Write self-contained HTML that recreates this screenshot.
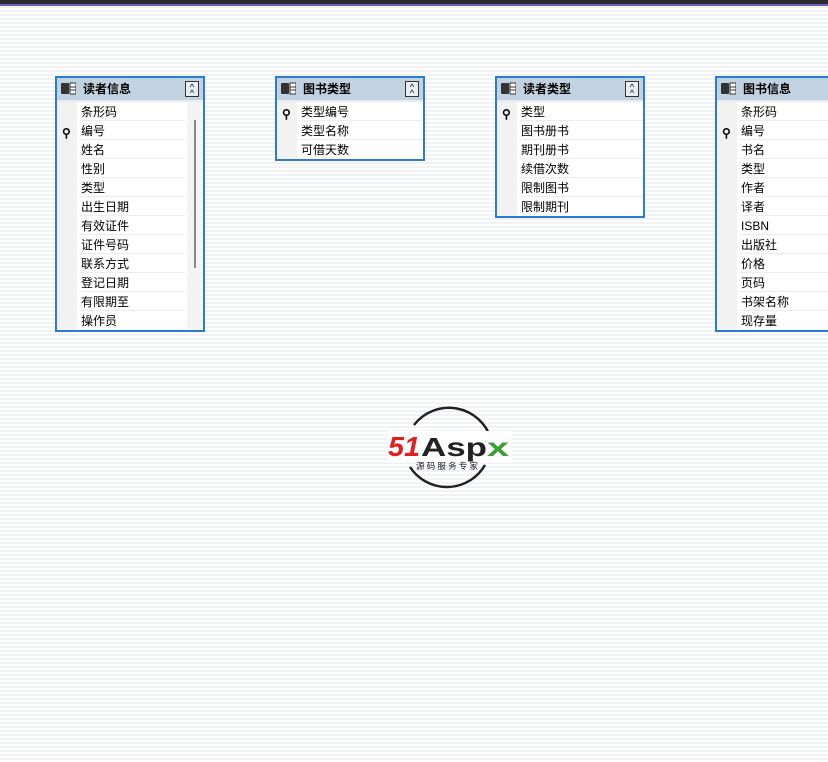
<!DOCTYPE html>
<html><head><meta charset="utf-8"><style>
*{margin:0;padding:0;box-sizing:border-box}
body{width:828px;height:762px;overflow:hidden;position:relative;font-family:"Liberation Sans","Noto Sans CJK SC",sans-serif;font-size:12px;color:#000;
background:repeating-linear-gradient(to bottom,#fff 0,#fff 2px,#f1f2f5 2px,#f1f2f5 4px)}
.top{position:absolute;left:0;top:0;width:828px;height:4px;background:#2c2c2e}
.pur{position:absolute;left:0;top:4px;width:828px;height:2px;background:#7060c8}
.t{position:absolute;top:76px;width:150px;border:2px solid #2a7ccc;background:#fff}
.h{height:24px;background:#c3d2e1;position:relative;font-weight:bold;line-height:22px;padding-left:26px;border-bottom:2px solid #e6ecf2}
.ic{position:absolute;left:4px;top:4px;width:15px;height:13px}
.ex{position:absolute;right:4px;top:3px;width:14px;height:16px;border:1px solid #333;background:#e8eef4;font-size:9px;line-height:6px;text-align:center;font-weight:normal;padding-top:2px}
.r{height:19px;line-height:21px;padding-left:22px;position:relative}
.r span{display:block;border-bottom:1px solid #ececec;padding-left:2px;height:19px;overflow:hidden}
.g{position:absolute;left:0;top:24px;bottom:0;width:20px;background:#f2f2f2}
.k{position:absolute;left:5px;top:3px;font-size:12px;line-height:18px}
</style></head><body>
<div class="top"></div><div class="pur"></div>

<div class="t" style="left:55px">
<div class="g"></div>
<div class="h"><svg class="ic" viewBox="0 0 15 13"><rect x="0" y="1" width="8" height="11" rx="1" fill="#333"/><rect x="9" y="1" width="6" height="11" fill="#fff" stroke="#333"/><line x1="9" y1="5" x2="15" y2="5" stroke="#333"/><line x1="9" y1="8" x2="15" y2="8" stroke="#333"/></svg>读者信息<div class="ex">^<br>^</div></div>
<div style="width:128px">
<div class="r"><span>条形码</span></div>
<div class="r"><b class="k">⚲</b><span>编号</span></div>
<div class="r"><span>姓名</span></div>
<div class="r"><span>性别</span></div>
<div class="r"><span>类型</span></div>
<div class="r"><span>出生日期</span></div>
<div class="r"><span>有效证件</span></div>
<div class="r"><span>证件号码</span></div>
<div class="r"><span>联系方式</span></div>
<div class="r"><span>登记日期</span></div>
<div class="r"><span>有限期至</span></div>
<div class="r"><span>操作员</span></div>
</div>
<div style="position:absolute;left:130px;top:24px;width:16px;bottom:0;background:#f4f4f4"></div>
<div style="position:absolute;left:137px;top:42px;width:2px;height:148px;background:#888"></div>
</div>

<div class="t" style="left:275px">
<div class="g"></div>
<div class="h"><svg class="ic" viewBox="0 0 15 13"><rect x="0" y="1" width="8" height="11" rx="1" fill="#333"/><rect x="9" y="1" width="6" height="11" fill="#fff" stroke="#333"/><line x1="9" y1="5" x2="15" y2="5" stroke="#333"/><line x1="9" y1="8" x2="15" y2="8" stroke="#333"/></svg>图书类型<div class="ex">^<br>^</div></div>
<div class="r"><b class="k">⚲</b><span>类型编号</span></div>
<div class="r"><span>类型名称</span></div>
<div class="r"><span style="border:none">可借天数</span></div>
</div>

<div class="t" style="left:495px">
<div class="g"></div>
<div class="h"><svg class="ic" viewBox="0 0 15 13"><rect x="0" y="1" width="8" height="11" rx="1" fill="#333"/><rect x="9" y="1" width="6" height="11" fill="#fff" stroke="#333"/><line x1="9" y1="5" x2="15" y2="5" stroke="#333"/><line x1="9" y1="8" x2="15" y2="8" stroke="#333"/></svg>读者类型<div class="ex">^<br>^</div></div>
<div class="r"><b class="k">⚲</b><span>类型</span></div>
<div class="r"><span>图书册书</span></div>
<div class="r"><span>期刊册书</span></div>
<div class="r"><span>续借次数</span></div>
<div class="r"><span>限制图书</span></div>
<div class="r"><span style="border:none">限制期刊</span></div>
</div>

<div class="t" style="left:715px">
<div class="g"></div>
<div class="h"><svg class="ic" viewBox="0 0 15 13"><rect x="0" y="1" width="8" height="11" rx="1" fill="#333"/><rect x="9" y="1" width="6" height="11" fill="#fff" stroke="#333"/><line x1="9" y1="5" x2="15" y2="5" stroke="#333"/><line x1="9" y1="8" x2="15" y2="8" stroke="#333"/></svg>图书信息</div>
<div class="r"><span>条形码</span></div>
<div class="r"><b class="k">⚲</b><span>编号</span></div>
<div class="r"><span>书名</span></div>
<div class="r"><span>类型</span></div>
<div class="r"><span>作者</span></div>
<div class="r"><span>译者</span></div>
<div class="r"><span>ISBN</span></div>
<div class="r"><span>出版社</span></div>
<div class="r"><span>价格</span></div>
<div class="r"><span>页码</span></div>
<div class="r"><span>书架名称</span></div>
<div class="r"><span>现存量</span></div>
</div>

<svg style="position:absolute;left:380px;top:395px" width="140" height="105" viewBox="0 0 140 105">
<path d="M34 30 A44 44 0 0 1 111 44" fill="none" stroke="#222" stroke-width="2.5"/>
<path d="M105 70 A44 44 0 0 1 30 72" fill="none" stroke="#222" stroke-width="2.5"/>
<rect x="8" y="36" width="124" height="32" fill="#fff"/>
<text x="8" y="61" font-family="Liberation Sans" font-weight="bold" font-style="italic" font-size="28" fill="#e02020" textLength="32" lengthAdjust="spacingAndGlyphs">51</text>
<text x="41" y="61" font-family="Liberation Sans" font-weight="bold" font-size="26" fill="#222" textLength="66" lengthAdjust="spacingAndGlyphs">Asp</text>
<text x="107" y="61" font-family="Liberation Sans" font-weight="bold" font-size="26" fill="#3aa030" textLength="22" lengthAdjust="spacingAndGlyphs">x</text>
<text x="36" y="74" font-family="Noto Sans CJK SC" font-size="8.5" fill="#222" textLength="62">源码服务专家</text>
</svg>
</body></html>
